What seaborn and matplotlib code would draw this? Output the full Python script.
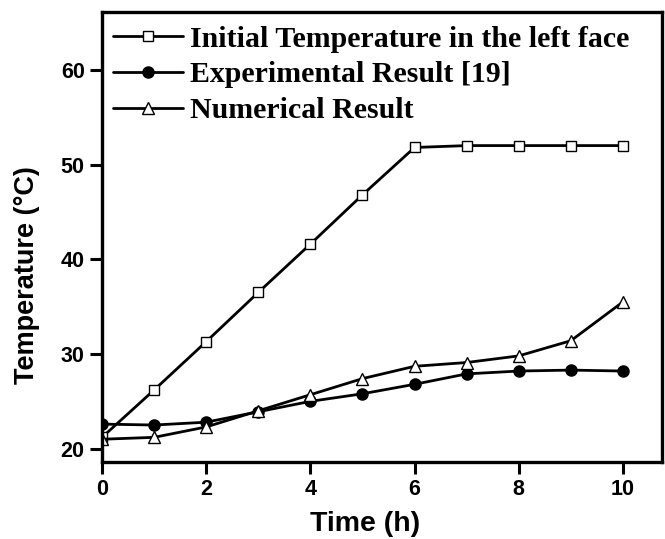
import pandas as pd
import numpy as np
import matplotlib
matplotlib.use('Agg')
import matplotlib.pyplot as plt
import seaborn as sns

sns.set_style('white')
plt.rcParams['font.family'] = ['Liberation Sans', 'DejaVu Sans']
plt.rcParams['text.color'] = 'black'
plt.rcParams['axes.labelcolor'] = 'black'
plt.rcParams['xtick.color'] = 'black'
plt.rcParams['ytick.color'] = 'black'

# Data
time_h = [0, 1, 2, 3, 4, 5, 6, 7, 8, 9, 10]
initial_temp = [21.2, 26.2, 31.3, 36.5, 41.6, 46.8, 51.8, 52.0, 52.0, 52.0, 52.0]
experimental = [22.6, 22.5, 22.8, 23.9, 25.0, 25.8, 26.8, 27.9, 28.2, 28.3, 28.2]
numerical = [21.0, 21.2, 22.3, 24.0, 25.7, 27.4, 28.7, 29.1, 29.8, 31.4, 35.5]

labels = ['Initial Temperature in the left face', 'Experimental Result [19]', 'Numerical Result']
markers = ['s', 'o', '^']
faces = ['white', 'black', 'white']
msizes = [7.5, 8, 9]

fig = plt.figure(figsize=(6.65, 5.39), dpi=100)
ax = fig.add_axes([0.1534, 0.1429, 0.8421, 0.8348])

for vals, lab, mk, fc, ms in zip([initial_temp, experimental, numerical], labels, markers, faces, msizes):
    sns.lineplot(x=time_h, y=vals, ax=ax, color='black', linewidth=2.0, marker=mk,
                 markersize=ms, markerfacecolor=fc, markeredgecolor='black',
                 markeredgewidth=1.0, label=lab)

ax.set_xlim(0, 10.75)
ax.set_ylim(18.6, 66.1)
ax.set_xticks([0, 2, 4, 6, 8, 10])
ax.set_yticks([20, 30, 40, 50, 60])
ax.tick_params(axis='both', direction='out', length=8.5, width=2.2, labelsize=15.5,
               pad=4, colors='black', bottom=True, left=True, top=False, right=False)
for lbl in ax.get_xticklabels() + ax.get_yticklabels():
    lbl.set_fontweight('bold')
for sp in ax.spines.values():
    sp.set_linewidth(2.4)
    sp.set_color('black')

ax.set_xlabel('Time (h)', fontsize=20.5, fontweight='bold', color='black')
ax.set_ylabel('Temperature (°C)', fontsize=19.5, fontweight='bold', color='black')
ax.xaxis.set_label_coords(0.47, -0.11)
ax.yaxis.set_label_coords(-0.11, 0.415)

leg = ax.legend(loc='upper left', bbox_to_anchor=(0.02, 0.97), frameon=False,
                handlelength=2.33, handletextpad=0.23, labelspacing=0.3,
                borderaxespad=0, borderpad=0,
                prop={'family': 'Liberation Serif', 'weight': 'bold', 'size': 21.5})
for t in leg.get_texts():
    t.set_color('black')

plt.savefig('out.png', dpi=100)
plt.close()
